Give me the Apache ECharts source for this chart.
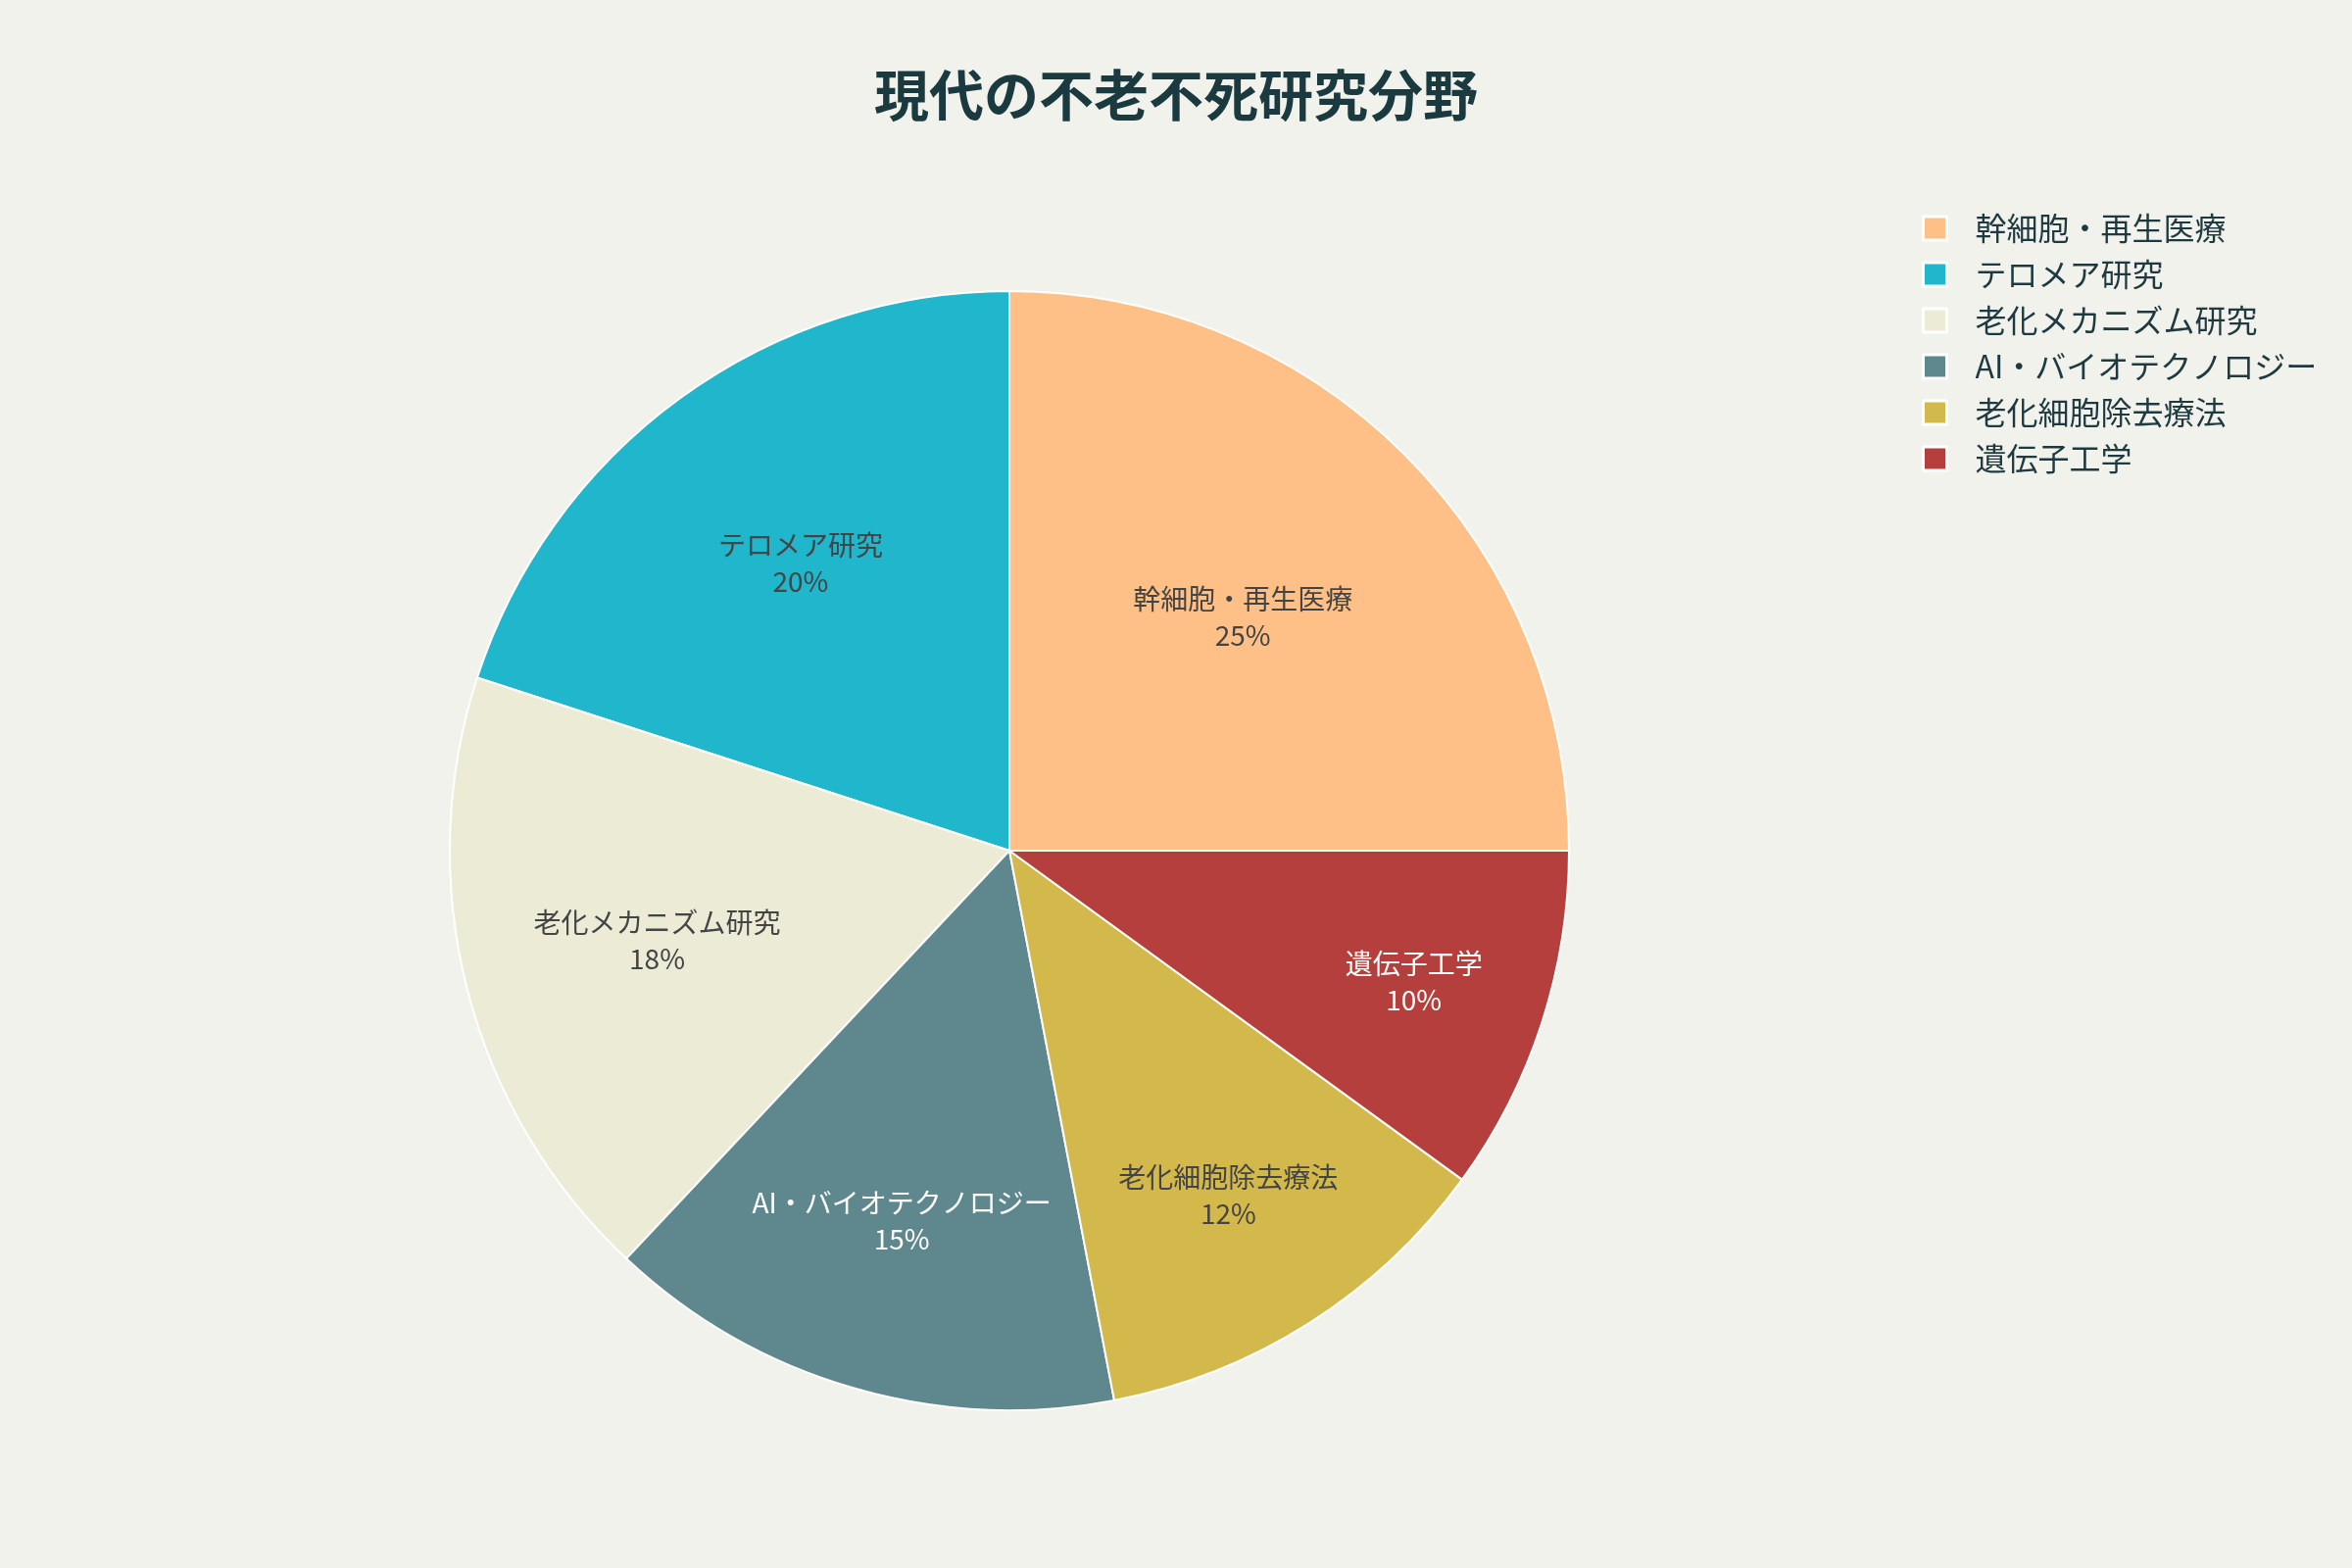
<!DOCTYPE html>
<html>
<head>
<meta charset="utf-8">
<script src="https://cdn.jsdelivr.net/npm/echarts@6/dist/echarts.min.js"></script>
<style>
  html, body { margin: 0; padding: 0; background: #f2f2ec; }
  #container { width: 2400px; height: 1600px; }
</style>
</head>
<body>
<div id="container"></div>
<script type="text/javascript">
    // 分野名と割合（%）
    var categories = ['幹細胞・再生医療', 'テロメア研究', '老化メカニズム研究', 'AI・バイオテクノロジー', '老化細胞除去療法', '遺伝子工学'];
    var values = [25, 20, 18, 15, 12, 10];
    var colors = ['#ffc087', '#20b6cb', '#ebebd6', '#5e888e', '#d3b94b', '#b53f3d'];
    var labelColors = ['#444444', '#444444', '#444444', '#ffffff', '#444444', '#ffffff'];
    var labelRatio = [0.59, 0.635, 0.65, 0.69, 0.73, 0.76];   //ラベルの半径方向の位置

    var font = '"Noto Sans CJK JP", "Noto Sans", sans-serif';
    var cx = 1030, cy = 868, R = 571;

    var dom = document.getElementById("container");
    var myChart = echarts.init(dom);

    var pieData = [];
    for (var i = 0; i < categories.length; i++) {
        pieData.push({
            name: categories[i],
            value: values[i],
            itemStyle: { color: colors[i] },
            label: { color: labelColors[i] }
        });
    }

    var option = {
        backgroundColor: '#f2f2ec',
        animation: false,
        title: {
            text: '現代の不老不死研究分野',
            left: 'center',
            top: 64,
            textStyle: {
                fontFamily: font,
                fontSize: 56,
                fontWeight: 'bold',
                color: '#1a3a3f'
            }
        },
        legend: {
            orient: 'vertical',
            left: 1956,
            top: 210,
            data: categories,
            icon: 'rect',
            itemWidth: 24,
            itemHeight: 24,
            itemGap: 11,
            itemStyle: { borderColor: '#ffffff', borderWidth: 3 },
            textStyle: {
                fontFamily: font,
                fontSize: 32,
                lineHeight: 36,
                color: '#1e3a40',
                padding: [0, 0, 0, 24]
            }
        },
        series: [{
            type: 'pie',
            center: [cx, cy],
            radius: R,
            startAngle: 0,
            clockwise: false,
            data: pieData,
            itemStyle: { borderColor: '#ffffff', borderWidth: 2 },
            label: {
                show: true,
                position: 'inside',
                formatter: '{b}\n{d}%',
                fontFamily: font,
                fontSize: 28,
                lineHeight: 37
            },
            labelLine: { show: false },
            labelLayout: function (params) {
                var r = params.labelRect;
                var lx = r.x + r.width / 2, ly = r.y + r.height / 2;
                var vx = lx - cx, vy = ly - cy;
                var d = Math.sqrt(vx * vx + vy * vy) || 1;
                var t = labelRatio[params.dataIndex] * R / d;
                return { dx: vx * t - vx, dy: vy * t - vy };
            }
        }]
    };

    myChart.setOption(option);
</script>
</body>
</html>
